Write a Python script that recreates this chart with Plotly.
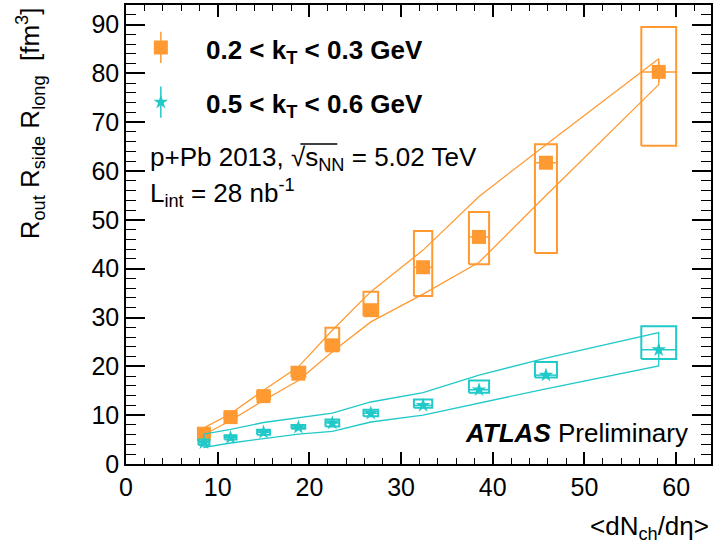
import plotly.graph_objects as go

# ---------------- data ----------------
dndeta = [8.5, 11.4, 15.0, 18.8, 22.5, 26.7, 32.4, 38.5, 45.8, 58.1]
dndeta_halfwidth = [0.6, 0.65, 0.7, 0.75, 0.75, 0.8, 1.0, 1.1, 1.2, 1.9]

vol_k1 = [6.2, 9.6, 13.9, 18.5, 24.3, 31.5, 40.3, 46.5, 61.7, 80.3]
vol_k1_stat = [0.4, 0.4, 0.5, 0.5, 0.6, 0.7, 0.8, 1.0, 1.2, 2.0]
vol_k1_sys_lo = [5.6, 9.0, 13.2, 17.8, 23.3, 30.3, 34.4, 40.9, 43.2, 65.2]
vol_k1_sys_hi = [6.9, 10.4, 14.8, 19.9, 27.9, 35.3, 47.7, 51.6, 65.5, 89.5]
band_k1_hi = [7.4, 10.3, 15.1, 19.9, 27.4, 35.3, 43.8, 54.8, 65.4, 83.0]
band_k1_lo = [6.0, 8.9, 13.0, 17.1, 23.0, 29.1, 34.8, 41.3, 55.0, 77.7]

vol_k2 = [4.35, 5.4, 6.5, 7.5, 8.4, 10.4, 12.0, 15.2, 18.2, 23.4]
vol_k2_stat = [0.3, 0.2, 0.2, 0.2, 0.25, 0.3, 0.35, 0.45, 0.5, 1.0]
vol_k2_sys_lo = [3.9, 5.0, 6.0, 7.2, 7.7, 9.8, 11.5, 14.6, 17.7, 21.5]
vol_k2_sys_hi = [5.0, 5.9, 7.0, 8.0, 9.1, 11.1, 13.2, 17.1, 20.9, 28.2]
band_k2_hi = [6.1, 7.1, 8.5, 9.5, 10.4, 12.7, 14.6, 18.2, 21.7, 26.9]
band_k2_lo = [3.4, 4.3, 5.2, 6.1, 6.7, 8.6, 10.0, 12.4, 15.4, 20.1]

labels = ["0.2 < k<sub>T</sub> < 0.3 GeV", "0.5 < k<sub>T</sub> < 0.6 GeV"]

ORANGE = "#ff9a33"
TEAL = "#22c9c9"
FONT = "Liberation Sans, Arial, sans-serif"
TXT = 26

# plot frame in pixels
W, H = 715, 548
L, R, T, B = 126, 713, 5, 464
XMAX, YMAX = 63.8, 94.0


def px(xp):
    return (xp - L) / (R - L)


def py(yp):
    return (B - yp) / (B - T)


def boxes(x, hw, lo, hi):
    xs, ys = [], []
    for xi, w, a, b in zip(x, hw, lo, hi):
        xs += [xi - w, xi + w, xi + w, xi - w, xi - w, None]
        ys += [a, a, b, b, a, None]
    return xs, ys


def band(x, hi, lo):
    xs = list(x) + list(x[::-1]) + [x[0]]
    ys = list(hi) + list(lo[::-1]) + [hi[0]]
    return xs, ys


fig = go.Figure()

for y, st, slo, shi, bhi, blo, col, sym, msize in [
    (vol_k1, vol_k1_stat, vol_k1_sys_lo, vol_k1_sys_hi, band_k1_hi, band_k1_lo, ORANGE, "square", 14),
    (vol_k2, vol_k2_stat, vol_k2_sys_lo, vol_k2_sys_hi, band_k2_hi, band_k2_lo, TEAL, "star", 11),
]:
    bx, by = band(dndeta, bhi, blo)
    fig.add_trace(go.Scatter(x=bx, y=by, mode="lines", line=dict(color=col, width=1.3),
                             showlegend=False, hoverinfo="skip"))
    sx, sy = boxes(dndeta, dndeta_halfwidth, slo, shi)
    fig.add_trace(go.Scatter(x=sx, y=sy, mode="lines", line=dict(color=col, width=2),
                             showlegend=False, hoverinfo="skip"))
    fig.add_trace(go.Scatter(
        x=dndeta, y=y, mode="markers",
        marker=dict(symbol=sym, size=msize, color=col, line=dict(width=0)),
        error_x=dict(type="data", array=dndeta_halfwidth, color=col, thickness=1.5, width=0),
        error_y=dict(type="data", array=st, color=col, thickness=1.5, width=0),
        showlegend=False))

# legend entries (drawn manually, ROOT style)
leg_x = [3.8, 3.8]
leg_y = [85.3, 74.1]
leg_err = [3.2, 3.2]
for lx, ly, le, col, sym, msize in zip(leg_x, leg_y, leg_err, [ORANGE, TEAL], ["square", "star"], [14, 11]):
    fig.add_trace(go.Scatter(
        x=[lx], y=[ly], mode="markers",
        marker=dict(symbol=sym, size=msize, color=col, line=dict(width=0)),
        error_y=dict(type="data", array=[le], color=col, thickness=1.5, width=0),
        showlegend=False, hoverinfo="skip"))

ann = []
ann.append(dict(x=px(204), y=py(51), xref="paper", yref="paper", xanchor="left", yanchor="middle",
                text="<b>" + labels[0] + "</b>", showarrow=False,
                font=dict(family=FONT, size=TXT, color="black")))
ann.append(dict(x=px(204), y=py(106), xref="paper", yref="paper", xanchor="left", yanchor="middle",
                text="<b>" + labels[1] + "</b>", showarrow=False,
                font=dict(family=FONT, size=TXT, color="black")))
ann.append(dict(x=px(148), y=py(158), xref="paper", yref="paper", xanchor="left", yanchor="middle",
                text="p+Pb 2013, \u221as<sub>NN</sub> = 5.02 TeV",
                showarrow=False, font=dict(family=FONT, size=TXT, color="black")))
ann.append(dict(x=px(148), y=py(193), xref="paper", yref="paper", xanchor="left", yanchor="middle",
                text="L<sub>int</sub> = 28 nb<sup>-1</sup>",
                showarrow=False, font=dict(family=FONT, size=TXT, color="black")))
ann.append(dict(x=px(692), y=py(433), xref="paper", yref="paper", xanchor="right", yanchor="middle",
                text="<b><i>ATLAS</i></b> Preliminary",
                showarrow=False, font=dict(family=FONT, size=TXT, color="black")))
# axis titles
ann.append(dict(x=px(30), y=1.0, xref="paper", yref="paper", xanchor="center", yanchor="top",
                text="R<sub>out</sub> R<sub>side</sub> R<sub>long</sub>  [fm<sup>3</sup>]",
                textangle=-90, showarrow=False, font=dict(family=FONT, size=TXT, color="black")))
ann.append(dict(x=1.0, y=py(527), xref="paper", yref="paper", xanchor="right", yanchor="middle",
                text="<dN<sub>ch</sub>/d\u03b7>",
                showarrow=False, font=dict(family=FONT, size=TXT, color="black")))

# overline of the square root (text decoration)
shapes = [dict(type="line", xref="paper", yref="paper", x0=px(301), x1=px(338), y0=py(144), y1=py(144),
               line=dict(color="black", width=1.3))]

fig.update_layout(
    width=W, height=H,
    margin=dict(l=L, r=W - R, t=T, b=H - B),
    plot_bgcolor="white", paper_bgcolor="white",
    font=dict(family=FONT, size=TXT, color="black"),
    annotations=ann,
    shapes=shapes,
    xaxis=dict(range=[0, XMAX], dtick=10, tick0=0, ticks="inside", ticklen=12, tickwidth=1.5,
               tickcolor="black", showline=True, linecolor="black", linewidth=1.5, mirror="ticks",
               showgrid=False, zeroline=False,
               minor=dict(dtick=2, ticks="inside", ticklen=6, tickwidth=1, tickcolor="black", showgrid=False),
               tickfont=dict(family=FONT, size=25)),
    yaxis=dict(range=[0, YMAX], dtick=10, tick0=0, ticks="inside", ticklen=19, tickwidth=1.5,
               tickcolor="black", showline=True, linecolor="black", linewidth=1.5, mirror="ticks",
               showgrid=False, zeroline=False,
               minor=dict(dtick=2, ticks="inside", ticklen=10, tickwidth=1, tickcolor="black", showgrid=False),
               tickfont=dict(family=FONT, size=25)),
)

fig.write_html("out.html")
